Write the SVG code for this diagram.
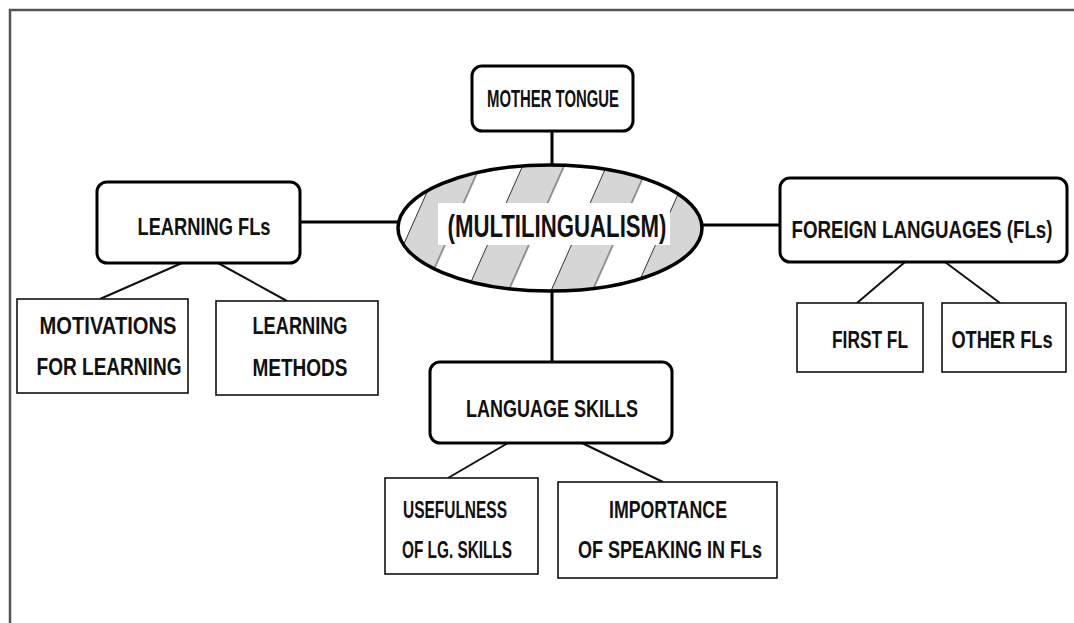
<svg xmlns="http://www.w3.org/2000/svg" width="1074" height="623" viewBox="0 0 1074 623">
<defs>
<pattern id="stripes" patternUnits="userSpaceOnUse" width="84" height="20" patternTransform="translate(8,0) skewX(-24)">
<rect x="0" y="0" width="84" height="20" fill="#ffffff"/>
<rect x="0" y="0" width="42" height="20" fill="#d6d6d6"/>
<line x1="0.5" y1="0" x2="0.5" y2="20" stroke="#333" stroke-width="1"/>
<line x1="42" y1="0" x2="42" y2="20" stroke="#333" stroke-width="1"/>
</pattern>
<style>
.rbox{fill:#fff;stroke:#000;stroke-width:3}
.box{fill:#fff;stroke:#111;stroke-width:1.6}
.t{font-family:"Liberation Sans",Arial,sans-serif;font-weight:bold;font-size:24px;fill:#111;text-anchor:middle}
.main{stroke:#000;stroke-width:3;fill:none}
.sub{stroke:#111;stroke-width:2;fill:none}
</style>
</defs>
<rect x="0" y="0" width="1074" height="623" fill="#fff"/>
<path d="M10,623 V10 H1074" fill="none" stroke="#555" stroke-width="2.5"/>

<g id="connectors">
<line class="main" x1="552" y1="131" x2="552" y2="166"/>
<line class="main" x1="300" y1="222" x2="399" y2="222"/>
<line class="main" x1="701" y1="225" x2="780" y2="225"/>
<line class="main" x1="552" y1="290" x2="552" y2="362"/>
<line class="sub" x1="182" y1="263" x2="100" y2="299"/>
<line class="sub" x1="218" y1="263" x2="287" y2="301"/>
<line class="sub" x1="905" y1="262" x2="857" y2="303"/>
<line class="sub" x1="945" y1="262" x2="1000" y2="303"/>
<line class="sub" x1="508" y1="443" x2="448" y2="478"/>
<line class="sub" x1="582" y1="443" x2="663" y2="482"/>
</g>

<g id="center">
<ellipse cx="550" cy="228" rx="152" ry="63" fill="url(#stripes)" stroke="#000" stroke-width="3.5"/>
<rect x="438" y="203" width="232" height="42" fill="#fff"/>
<text class="t" x="557" y="237" style="font-size:31px" textLength="219" lengthAdjust="spacingAndGlyphs">(MULTILINGUALISM)</text>
</g>

<g id="mother-tongue">
<rect class="rbox" x="472" y="66" width="161" height="65" rx="10"/>
<text class="t" x="553" y="107" textLength="132" lengthAdjust="spacingAndGlyphs">MOTHER TONGUE</text>
</g>

<g id="learning-fls">
<rect class="rbox" x="97" y="182" width="203" height="81" rx="10"/>
<text class="t" x="204" y="235" textLength="133" lengthAdjust="spacingAndGlyphs">LEARNING FLs</text>
</g>

<g id="foreign-languages">
<rect class="rbox" x="780" y="178" width="287" height="84" rx="10"/>
<text class="t" transform="translate(922,238) scale(0.78,1)" x="0" y="0">FOREIGN LANGUAGES (FLs)</text>
</g>

<g id="language-skills">
<rect class="rbox" x="430" y="362" width="242" height="81" rx="10"/>
<text class="t" x="552" y="417" textLength="172" lengthAdjust="spacingAndGlyphs">LANGUAGE SKILLS</text>
</g>

<g id="motivations">
<rect class="box" x="17" y="299" width="171" height="94"/>
<text class="t" x="108" y="334" textLength="137" lengthAdjust="spacingAndGlyphs">MOTIVATIONS</text>
<text class="t" x="109" y="375" textLength="145" lengthAdjust="spacingAndGlyphs">FOR LEARNING</text>
</g>

<g id="learning-methods">
<rect class="box" x="216" y="301" width="162" height="94"/>
<text class="t" x="300" y="334" textLength="95" lengthAdjust="spacingAndGlyphs">LEARNING</text>
<text class="t" x="300" y="376" textLength="95" lengthAdjust="spacingAndGlyphs">METHODS</text>
</g>

<g id="first-fl">
<rect class="box" x="797" y="303" width="126" height="69"/>
<text class="t" x="870" y="348" textLength="76" lengthAdjust="spacingAndGlyphs">FIRST FL</text>
</g>

<g id="other-fls">
<rect class="box" x="942" y="303" width="124" height="69"/>
<text class="t" transform="translate(1002,348) scale(0.76,1)" x="0" y="0">OTHER FLs</text>
</g>

<g id="usefulness">
<rect class="box" x="385" y="478" width="153" height="96"/>
<text class="t" x="455" y="518" textLength="104" lengthAdjust="spacingAndGlyphs">USEFULNESS</text>
<text class="t" x="457" y="558" textLength="110" lengthAdjust="spacingAndGlyphs">OF LG. SKILLS</text>
</g>

<g id="importance">
<rect class="box" x="558" y="482" width="219" height="96"/>
<text class="t" x="668" y="518" textLength="118" lengthAdjust="spacingAndGlyphs">IMPORTANCE</text>
<text class="t" x="670" y="558" textLength="184" lengthAdjust="spacingAndGlyphs">OF SPEAKING IN FLs</text>
</g>
</svg>
